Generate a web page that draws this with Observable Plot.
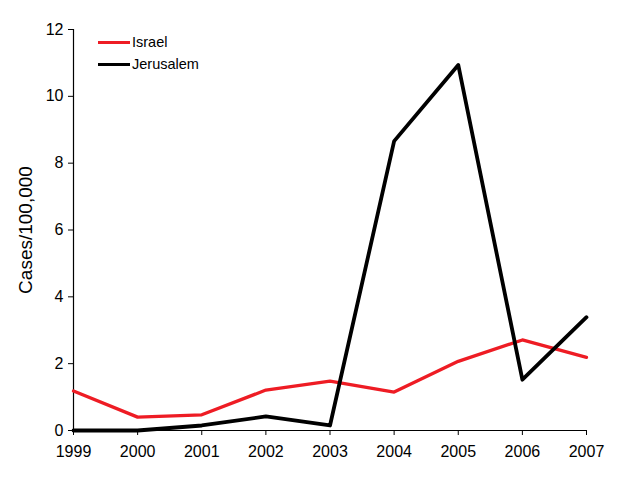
<!DOCTYPE html>
<html>
<head>
<meta charset="utf-8">
<script src="https://cdn.jsdelivr.net/npm/d3@7"></script>
<script src="https://cdn.jsdelivr.net/npm/@observablehq/plot@0.6"></script>
<style>
  html, body { margin: 0; padding: 0; background: #fff; }
  #wrap { position: relative; width: 624px; height: 480px; font-family: "Liberation Sans", Arial, sans-serif; }
  .leg { position: absolute; left: 98px; font-size: 14.5px; color: #000; display: flex; align-items: center; }
  .leg span.sw { display: inline-block; width: 32px; height: 3px; margin-right: 2px; }
</style>
</head>
<body>
<div id="wrap"></div>
<script>
const years = [1999, 2000, 2001, 2002, 2003, 2004, 2005, 2006, 2007];
const israel = [1.18, 0.40, 0.47, 1.21, 1.48, 1.15, 2.07, 2.71, 2.19];
const jerusalem = [0.0, 0.0, 0.15, 0.42, 0.15, 8.66, 10.94, 1.52, 3.39];
const yTicks = [0, 2, 4, 6, 8, 10, 12];
const seriesNames = ["Israel", "Jerusalem"];
const seriesColors = ["#ee1c24", "#000000"];
const yLabel = "Cases/100,000";

const rows = [];
years.forEach((yr, i) => {
  rows.push({year: yr, value: israel[i], series: "Israel"});
  rows.push({year: yr, value: jerusalem[i], series: "Jerusalem"});
});

const chart = Plot.plot({
  width: 624,
  height: 480,
  marginLeft: 73,
  marginRight: 38,
  marginTop: 29,
  marginBottom: 50,
  style: {fontFamily: "'Liberation Sans', Arial, sans-serif", fontSize: "16px", color: "#000", background: "#fff"},
  x: {domain: [1999, 2007]},
  y: {domain: [0, 12]},
  marks: [
    Plot.ruleX([1999], {stroke: "#000", strokeWidth: 1.2}),
    Plot.ruleY([0], {stroke: "#000", strokeWidth: 1.2}),
    Plot.axisX({ticks: years, tickFormat: d => String(d), tickSize: 5, tickPadding: 10, label: null, fontSize: 16}),
    Plot.axisY({ticks: yTicks, tickSize: 5, tickPadding: 5, label: null, fontSize: 16}),
    Plot.text([yLabel], {frameAnchor: "left", textAnchor: "middle", rotate: -90, dx: -48, fontSize: 19, fill: "#000"}),
    Plot.line(rows.filter(d => d.series === "Israel"), {x: "year", y: "value", stroke: seriesColors[0], strokeWidth: 3.3}),
    Plot.line(rows.filter(d => d.series === "Jerusalem"), {x: "year", y: "value", stroke: seriesColors[1], strokeWidth: 3.8})
  ]
});
const wrap = document.getElementById("wrap");
wrap.appendChild(chart);
seriesNames.forEach((name, i) => {
  const el = document.createElement("div");
  el.className = "leg";
  el.style.top = (34 + i * 22) + "px";
  el.innerHTML = `<span class="sw" style="background:${seriesColors[i]}"></span>${name}`;
  wrap.appendChild(el);
});
</script>
</body>
</html>
